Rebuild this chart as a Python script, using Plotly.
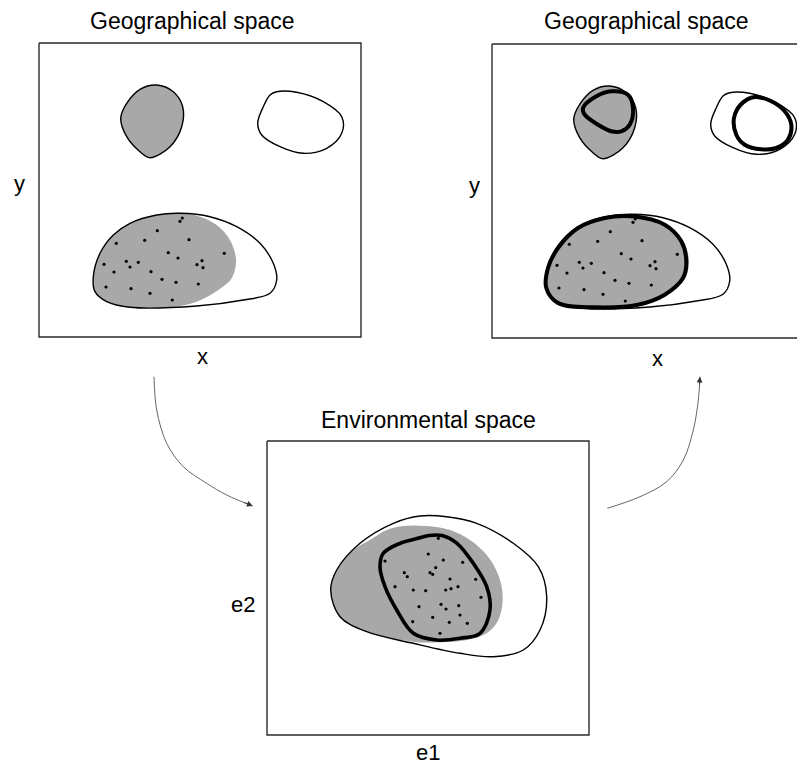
import plotly.graph_objects as go

# ---------------- data (panel-local units, origin = top-left of each panel) ----------------
W, H = 322, 294

geo_small_x = [117.7, 134.3, 143.7, 142.7, 131, 111, 101, 87.7, 81.7, 87.7, 101]
geo_small_y = [42, 48.7, 63.7, 83.7, 103.7, 114.7, 108.7, 93.7, 75.3, 60.3, 46.3]

geo_right_x = [237.7, 257.7, 284.3, 302.7, 302.7, 287.7, 264.3, 241, 222.7, 218.7, 224.3, 231]
geo_right_y = [48.7, 49.3, 58.7, 73.7, 90.3, 105.3, 110.3, 103.7, 92, 80.3, 63.7, 52]

geo_big_x = [91, 117.7, 141, 171, 197.7, 221, 234.3, 237.7, 231, 204.3, 157.7, 91, 67.7, 56, 54.3, 61, 74.3]
geo_big_y = [180.3, 172, 170.3, 173.7, 183.7, 200.3, 220.3, 237, 250.3, 257, 263, 264.3, 258.7, 248.7, 233.7, 210.3, 192]

geo_grey_x = [91, 117.7, 141, 161, 177.7, 191, 197, 192.7, 179.3, 157.7, 134.3, 91, 67.7, 56, 54.3, 61, 74.3]
geo_grey_y = [180.3, 172, 170.3, 173.7, 182, 197, 217, 235.3, 247, 258.7, 263.7, 264.3, 258.7, 248.7, 233.7, 210.3, 192]

geo_pts_x = [143.3, 141, 118.3, 105.7, 77.3, 150, 129.3, 139, 185.3, 87.3, 99.3, 91, 65, 75, 112,
             158, 163, 164, 123, 137, 159.3, 67, 92, 111, 133.3]
geo_pts_y = [175, 178.3, 187.7, 197.3, 200.3, 196.7, 209.7, 215, 210.3, 218.3, 219.3, 224, 221.3, 229, 228.7,
             221.7, 217.7, 224.7, 236.3, 239.3, 241, 244, 245.7, 250.3, 257]

pred_small_x = [91, 104.3, 119.3, 136, 141, 137.7, 129.3, 119.3, 106, 92.7]
pred_small_y = [64, 52.3, 47.3, 50.7, 64, 80.7, 87.3, 87.3, 80.7, 70.7]

pred_right_x = [242, 249.3, 262.7, 279.3, 292.7, 299.3, 296, 284.3, 269.3, 252.7, 244.3]
pred_right_y = [74, 60, 53, 57.3, 67.3, 80.7, 95.7, 104, 105.3, 100.7, 90.7]

pred_big_x = [139.3, 172.7, 189.3, 194.3, 191, 172.7, 146, 102.7, 66, 54.3, 56, 66, 86, 112.7]
pred_big_y = [172.3, 180.7, 197.3, 217.3, 234, 250.7, 260.7, 263.3, 259, 244, 224, 204, 184, 174]

env_outer_x = [153, 179.7, 209.7, 246.3, 271.3, 279.7, 273, 256.3, 226.3, 193, 146.3, 99.7, 73, 63.7, 69.7, 93, 126.3]
env_outer_y = [75, 75.7, 82.3, 102.3, 125.7, 155.7, 189, 209, 215.7, 212.3, 202.3, 190.7, 175.7, 149, 129, 102.3, 82.3]

env_grey_x = [103, 119.7, 136.3, 159.7, 183, 203, 219.7, 231.3, 235.7, 231.3, 219.7, 199.7, 173, 146.3, 99.7, 73, 63.7, 69.7, 86.3]
env_grey_y = [99, 89, 85, 85, 89, 99, 114, 134, 155.7, 179, 192.3, 199, 201.3, 200.7, 190.7, 175.7, 149, 129, 109]

env_thick_x = [116.3, 133, 150, 162, 175, 190, 206.3, 219.7, 223, 213, 193, 169.7, 146.3, 129.7, 118, 113]
env_thick_y = [112.3, 102.3, 97.5, 94.5, 94.5, 102.3, 122.3, 145.7, 169, 192.3, 197.3, 199, 192.3, 169, 145.7, 125.7]

env_pts_x = [171.3, 161.3, 176.3, 195.7, 118, 168.7, 163, 165.7, 137.3, 140.3, 183, 208.7, 128, 146.3, 158.7,
             178.7, 184, 191, 214, 174, 179, 191.7, 152, 165.7, 193, 145.7, 182.3, 200.3, 173]
env_pts_y = [97.3, 113, 119, 121.3, 120, 126.7, 131.7, 133.3, 131.7, 135.7, 138, 138.3, 145.7, 149, 149.7,
             149, 147.7, 145.7, 156.3, 163.3, 168, 164.7, 165.7, 176.3, 174, 180.7, 181.3, 182.3, 192.3]

# curved arrows (page pixel units)
arrow1_x = [154, 156.7, 166.7, 183.3, 206.7, 226.7, 252.7]
arrow1_y = [376.7, 410, 443.3, 466.7, 483.3, 495, 506]
arrow2_x = [607.3, 640, 666.7, 683.3, 693.3, 698.3, 700]
arrow2_y = [508.3, 496.7, 481.7, 460, 430, 400, 376.7]

titles = ["Geographical space", "Geographical space", "Environmental space"]

# ---------------- layout helpers ----------------
OFF = 8                      # page body margin
FW, FH = 805 - OFF, 769 - OFF
PAD = 4
panels = {  # left, top page-pixel of each panel frame
    1: (39, 43),
    2: (492, 44),
    3: (267, 441),
}

GREY = "#a8a8a8"
fig = go.Figure()


def closed(xs, ys):
    return list(xs) + [xs[0]], list(ys) + [ys[0]]


def add_blob(k, xs, ys, fill=None, lw=1.4, line=True):
    cx, cy = closed(xs, ys)
    fig.add_trace(go.Scatter(
        x=cx, y=cy, mode="lines", xaxis=f"x{k}", yaxis=f"y{k}",
        line=dict(shape="spline", smoothing=1.0, color="black" if line else "rgba(0,0,0,0)",
                  width=lw if line else 0),
        fill="toself" if fill else "none", fillcolor=fill if fill else None,
        hoverinfo="skip", showlegend=False))


def add_pts(k, xs, ys):
    fig.add_trace(go.Scatter(x=xs, y=ys, mode="markers", xaxis=f"x{k}", yaxis=f"y{k}",
                             marker=dict(size=3.2, color="black", symbol="circle"),
                             hoverinfo="skip", showlegend=False))


def add_frame(k):
    fig.add_trace(go.Scatter(x=[0, W, W, 0, 0], y=[0, 0, H, H, 0], mode="lines",
                             xaxis=f"x{k}", yaxis=f"y{k}",
                             line=dict(color="#2b2b2b", width=1.4),
                             hoverinfo="skip", showlegend=False))


# panel 1: observed geographical space
add_frame(1)
add_blob(1, geo_small_x, geo_small_y, fill=GREY)
add_blob(1, geo_right_x, geo_right_y)
add_blob(1, geo_grey_x, geo_grey_y, fill=GREY, line=False)
add_blob(1, geo_big_x, geo_big_y)
add_pts(1, geo_pts_x, geo_pts_y)

# panel 2: projected back to geography
add_frame(2)
add_blob(2, geo_small_x, geo_small_y, fill=GREY)
add_blob(2, geo_right_x, geo_right_y)
add_blob(2, geo_grey_x, geo_grey_y, fill=GREY, line=False)
add_blob(2, geo_big_x, geo_big_y)
add_blob(2, pred_small_x, pred_small_y, lw=4)
add_blob(2, pred_right_x, pred_right_y, lw=4)
add_blob(2, pred_big_x, pred_big_y, lw=4)
add_pts(2, geo_pts_x, geo_pts_y)

# panel 3: environmental space
add_frame(3)
add_blob(3, env_grey_x, env_grey_y, fill=GREY, line=False)
add_blob(3, env_outer_x, env_outer_y)
add_blob(3, env_thick_x, env_thick_y, lw=3.6)
add_pts(3, env_pts_x, env_pts_y)

# arrows on a full-figure overlay axis (page-pixel units)
for ax_, ay_ in [(arrow1_x, arrow1_y), (arrow2_x, arrow2_y)]:
    fig.add_trace(go.Scatter(x=ax_, y=ay_, mode="lines", xaxis="x4", yaxis="y4",
                             line=dict(shape="spline", color="#555555", width=0.9),
                             hoverinfo="skip", showlegend=False))
    fig.add_annotation(x=ax_[-1], y=ay_[-1], ax=ax_[-2] + (ax_[-1] - ax_[-2]) * 0.6,
                       ay=ay_[-2] + (ay_[-1] - ay_[-2]) * 0.6,
                       xref="x4", yref="y4", axref="x4", ayref="y4", text="",
                       showarrow=True, arrowhead=2, arrowsize=1.3, arrowwidth=0.9,
                       arrowcolor="#333333")

# text labels
FONT = "Liberation Sans, Arial, sans-serif"
labels = [
    (titles[0], 192, 21, 23), (titles[1], 646, 21, 23), (titles[2], 428, 420, 23),
    ("y", 19, 183, 22), ("y", 474, 185, 22),
    ("x", 202, 356, 22), ("x", 657, 358, 22),
    ("e2", 243, 604, 22), ("e1", 428, 752, 22),
]
for t, x, y, s in labels:
    fig.add_annotation(x=x, y=y, xref="x4", yref="y4", text=t, showarrow=False,
                       xanchor="center", yanchor="middle",
                       font=dict(family=FONT, size=s, color="black"))

# axes
axis_common = dict(visible=False, showgrid=False, zeroline=False, fixedrange=True)
layout = dict(width=FW, height=FH, margin=dict(l=0, r=0, t=0, b=0),
              paper_bgcolor="white", plot_bgcolor="rgba(0,0,0,0)", showlegend=False)
for k, (L, T) in panels.items():
    L, T = L - OFF, T - OFF
    x0p, x1p = L - PAD, min(L + W + PAD, FW)
    y0p, y1p = T - PAD, T + H + PAD
    layout[f"xaxis{k}"] = dict(axis_common, domain=[x0p / FW, x1p / FW],
                               range=[x0p - L, x1p - L], anchor=f"y{k}")
    layout[f"yaxis{k}"] = dict(axis_common, domain=[1 - y1p / FH, 1 - y0p / FH],
                               range=[y1p - T, y0p - T], anchor=f"x{k}")
# overlay axis expressed in page pixels
layout["xaxis4"] = dict(axis_common, domain=[0, 1], range=[OFF, OFF + FW], anchor="y4")
layout["yaxis4"] = dict(axis_common, domain=[0, 1], range=[OFF + FH, OFF], anchor="x4")
layout["xaxis"] = layout.pop("xaxis1")
layout["yaxis"] = layout.pop("yaxis1")
fig.update_layout(**layout)
for tr in fig.data:
    if tr.xaxis == "x1":
        tr.xaxis = "x"
        tr.yaxis = "y"

fig.write_html("out.html", config={"displayModeBar": False})
